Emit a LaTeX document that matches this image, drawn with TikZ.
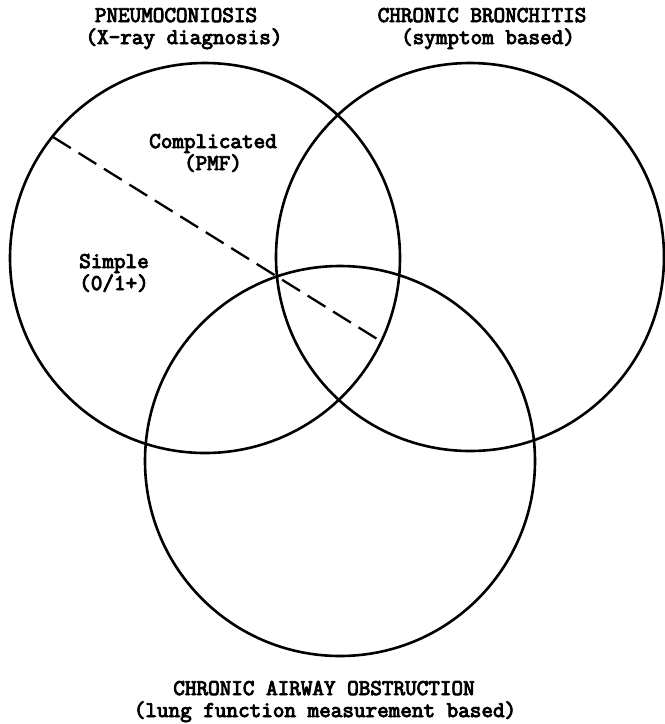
\documentclass[tikz,border=0pt]{standalone}
\usepackage{fontspec}
\newfontfamily\tw[FakeBold=4]{Latin Modern Mono}
\begin{document}
\begin{tikzpicture}[x=1pt,y=-1pt,
  lbl/.style={font=\tw\fontsize{22.5}{22}\selectfont, inner sep=0pt, anchor=base},
  ring/.style={line width=2.6pt},
  chord/.style={line width=2.3pt, dash pattern=on 21pt off 9pt}]
\useasboundingbox (0,0) rectangle (665,724);
\coordinate (cl) at (205,258);
\coordinate (cr) at (470,257);
\coordinate (cb) at (340,461);
\draw[ring] (cl) circle[radius=195];
\draw[ring] (cr) circle[radius=194];
\draw[ring] (cb) circle[radius=195];
\coordinate (d1) at (53,137);
\coordinate (d2) at (382,342);
\draw[chord] (d1) -- (d2);
\node[lbl] (p1) at (176,22) {PNEUMOCONIOSIS};
\node[lbl] (p2) at (184,44) {(X-ray diagnosis)};
\node[lbl] (b1) at (482,22) {CHRONIC BRONCHITIS};
\node[lbl] (b2) at (488,44) {(symptom based)};
\node[lbl] (c1) at (213,148) {Complicated};
\node[lbl] (c2) at (213,170) {(PMF)};
\node[lbl] (s1) at (114,268) {Simple};
\node[lbl] (s2) at (114,290) {(0/1+)};
\node[lbl] (a1) at (324,695) {CHRONIC AIRWAY OBSTRUCTION};
\node[lbl] (a2) at (325,717) {(lung function measurement based)};
\end{tikzpicture}
\end{document}
